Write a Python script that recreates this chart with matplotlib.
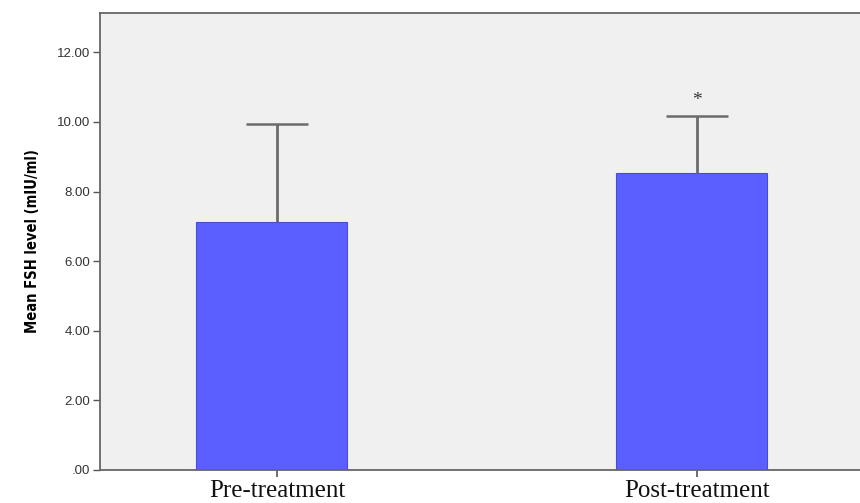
import numpy as np
import matplotlib.pyplot as plt

groups = ['Pre-treatment', 'Post-treatment']
means = [7.13, 8.53]
upper_err = [2.81, 1.64]
y_ticks = [0, 2, 4, 6, 8, 10, 12]
y_tick_labels = ['.00', '2.00', '4.00', '6.00', '8.00', '10.00', '12.00']

fig = plt.figure(figsize=(8.6, 5.03), dpi=100)
ax = fig.add_axes([100 / 860, 33 / 503, 760 / 860, 457 / 503])
ax.set_facecolor('#f0f0f0')

x = np.arange(len(groups))
ax.bar(x, means, width=0.36, color='#5b5fff', edgecolor='#4a4dcc', linewidth=0.8, zorder=2)
_, caps, _ = ax.errorbar(x + 0.014, means, yerr=[[0, 0], upper_err], fmt='none',
                         ecolor='#6b6b6b', elinewidth=2, capsize=22, capthick=1.8, zorder=3)
caps[0].set_visible(False)  # only the upper cap
ax.text(x[1] + 0.014, means[1] + upper_err[1] + 0.2, '*', ha='center', va='bottom',
        fontsize=14, color='#333333', family='Liberation Serif')

ax.set_xlim(-0.408, 1.401)
ax.set_ylim(0, 13.13)
ax.set_yticks(y_ticks)
ax.set_yticklabels(y_tick_labels, fontsize=9.5, color='#333333', family='Liberation Sans')
ax.set_xticks(x + 0.014)
ax.set_xticklabels(groups, fontsize=18, family='Liberation Serif', color='#111111')
ax.tick_params(axis='y', direction='out', length=5, width=1, color='#555555', pad=2)
ax.tick_params(axis='x', direction='out', length=5, width=1.2, color='#555555', pad=2)
ax.set_ylabel('Mean FSH level (mIU/ml)', fontsize=10.5, fontweight='bold',
              family='DejaVu Sans', fontstretch='condensed', labelpad=12)

for side in ['left', 'top', 'bottom']:
    ax.spines[side].set_color('#666666')
    ax.spines[side].set_linewidth(1.3)
ax.spines['right'].set_visible(False)

fig.savefig('out.png', dpi=100)
